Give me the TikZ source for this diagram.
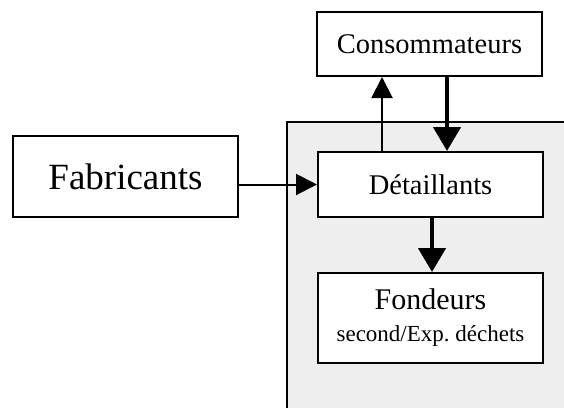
\documentclass[tikz,border=0pt]{standalone}
\usepackage{fontspec}
\setmainfont{Liberation Serif}
\usetikzlibrary{arrows.meta}
\definecolor{zonefill}{RGB}{238,238,238}
\begin{document}
\begin{tikzpicture}[x=1pt,y=-1pt,
  box/.style={draw=black, line width=2pt, fill=white, inner sep=0pt,
              minimum width=225pt, align=center},
  thinarrow/.style={line width=2pt, -{Triangle[width=21pt,length=21pt]}},
  thickarrow/.style={line width=4.5pt, -{Triangle[width=27pt,length=24pt]}}]
  \useasboundingbox (0,0) rectangle (564,408);
  % shaded zone holding the retail chain
  \fill[zonefill] (287,408) -- (287,122) -- (564,122) -- (564,408) -- cycle;
  \draw[line width=2pt] (287,408) -- (287,122) -- (564,122);
  % boxes
  \node[box, minimum height=64pt, font=\fontsize{28.5}{30}\selectfont]
    (cons) at (429.5,44) {Consommateurs};
  \node[box, minimum height=81pt, font=\fontsize{37}{40}\selectfont]
    (fab) at (125.5,176.5) {Fabricants};
  \node[box, minimum height=65pt, font=\fontsize{28.5}{30}\selectfont]
    (det) at (430.5,184.5) {Détaillants};
  \node[box, minimum height=90pt, font=\fontsize{23}{32}\selectfont]
    (fond) at (430.5,318) {{\fontsize{30}{32}\selectfont Fondeurs}\\ second/Exp.~déchets};
  % flows
  \draw[thinarrow] (fab.east |- det.west) -- (det.west);
  \draw[thinarrow] ([xshift=-48.5pt]det.north) -- ([xshift=-48.5pt]det.north |- cons.south);
  \draw[thickarrow] ([xshift=17.5pt]cons.south) -- ([xshift=17.5pt]cons.south |- det.north);
  \draw[thickarrow] ([xshift=1.5pt]det.south) -- ([xshift=1.5pt]det.south |- fond.north);
\end{tikzpicture}
\end{document}
